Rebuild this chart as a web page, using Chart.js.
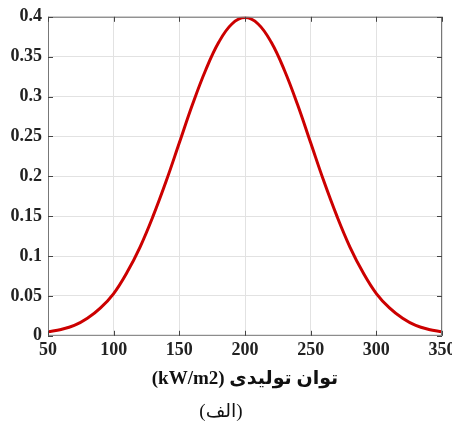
<!DOCTYPE html>
<html>
<head>
<meta charset="utf-8">
<script src="https://cdn.jsdelivr.net/npm/chart.js@4/dist/chart.umd.min.js"></script>
<style>
  html, body { margin: 0; padding: 0; background: #fff; }
  #box { width: 452px; height: 430px; position: relative; }
</style>
</head>
<body>
<div id="box"><canvas id="line-chart" dir="rtl"></canvas></div>
<script>
// valores
const potencia = [50, 60, 70, 80, 90, 100, 110, 120, 130, 140, 150, 160, 170, 180, 190, 200,
                  210, 220, 230, 240, 250, 260, 270, 280, 290, 300, 310, 320, 330, 340, 350];
const probabilidad = [0.005, 0.008, 0.013, 0.022, 0.035, 0.053, 0.079, 0.111, 0.150, 0.194, 0.242,
                      0.290, 0.333, 0.368, 0.391, 0.399, 0.391, 0.368, 0.333, 0.290, 0.242,
                      0.194, 0.150, 0.111, 0.079, 0.053, 0.035, 0.022, 0.013, 0.008, 0.005];
const ticksX = [50, 100, 150, 200, 250, 300, 350];
const ticksY = [0, 0.05, 0.1, 0.15, 0.2, 0.25, 0.3, 0.35, 0.4];

// la parte latina va aislada para que los parentesis no se volteen
const tituloEje = "توان تولیدی \u2066(kW/m2)\u2069";
const subtitulo = "(الف)";

const fuenteTicks = { family: "'Liberation Serif', 'Times New Roman', serif", size: 18, weight: "bold" };

// marco y marcas hacia adentro, como en matlab
const marco = {
    id: "marco",
    afterDraw(chart) {
        const { ctx, chartArea: a, scales } = chart;
        ctx.save();
        ctx.strokeStyle = "#777";
        ctx.lineWidth = 1;
        ctx.strokeRect(a.left + 0.5, a.top + 0.5, a.right - a.left - 1, a.bottom - a.top - 1);
        ctx.strokeStyle = "#444";
        ctx.beginPath();
        ticksX.forEach(v => {
            const px = Math.round(scales.x.getPixelForValue(v)) + 0.5;
            ctx.moveTo(px, a.bottom); ctx.lineTo(px, a.bottom - 5);
            ctx.moveTo(px, a.top); ctx.lineTo(px, a.top + 5);
        });
        ticksY.forEach(v => {
            const py = Math.round(scales.y.getPixelForValue(v)) + 0.5;
            ctx.moveTo(a.left, py); ctx.lineTo(a.left + 5, py);
            ctx.moveTo(a.right, py); ctx.lineTo(a.right - 5, py);
        });
        ctx.stroke();
        ctx.restore();
    }
};

const contenedor = document.querySelector("#line-chart");

const lineChart = new Chart(contenedor, {
    type: "line",
    data: {
        datasets: [{
            data: potencia.map((x, i) => ({ x: x, y: probabilidad[i] })),
            borderColor: "#cc0000",
            borderWidth: 3,
            pointRadius: 0,
            tension: 0.4,
            fill: false
        }]
    },
    options: {
        responsive: true,
        maintainAspectRatio: false,
        animation: false,
        layout: { padding: { top: 12, right: 10, left: 0, bottom: 3.4 } },
        plugins: {
            legend: { display: false },
            tooltip: { enabled: false },
            title: {
                display: true,
                position: "bottom",
                text: subtitulo,
                color: "#111",
                font: { family: "'Liberation Serif', 'DejaVu Sans', serif", size: 19, weight: "normal" },
                padding: { top: 3, bottom: 3 }
            }
        },
        scales: {
            x: {
                type: "linear",
                min: 50,
                max: 350,
                afterBuildTicks: s => { s.ticks = ticksX.map(v => ({ value: v })); },
                afterFit: s => { s.height = 62; s.paddingLeft = 0; s.paddingRight = 0; },
                ticks: { font: fuenteTicks, color: "#222", padding: 4, maxRotation: 0 },
                grid: { color: "#e2e2e2", drawTicks: false },
                border: { display: false },
                title: {
                    display: true,
                    text: tituloEje,
                    color: "#111",
                    font: { family: "'Liberation Serif', 'DejaVu Sans', serif", size: 19, weight: "bold" },
                    padding: { top: 0, bottom: 7.6 }
                }
            },
            y: {
                min: 0,
                max: 0.4,
                afterBuildTicks: s => { s.ticks = ticksY.map(v => ({ value: v })); },
                afterFit: s => { s.width = 48; },
                ticks: {
                    font: fuenteTicks,
                    color: "#222",
                    padding: 6,
                    callback: v => String(+v.toFixed(2))
                },
                grid: { color: "#e2e2e2", drawTicks: false },
                border: { display: false }
            }
        }
    },
    plugins: [marco]
});
</script>
</body>
</html>
